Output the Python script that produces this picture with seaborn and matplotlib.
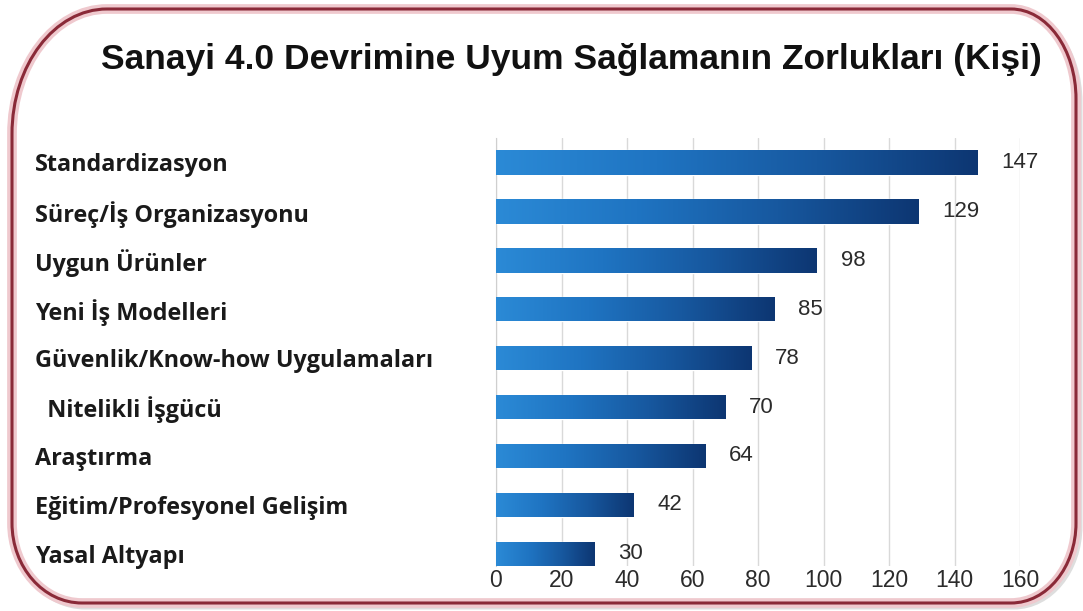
import numpy as np
import pandas as pd
import matplotlib
matplotlib.use("Agg")
import matplotlib.pyplot as plt
import seaborn as sns
from matplotlib.path import Path
from matplotlib.patches import PathPatch
from matplotlib.colors import LinearSegmentedColormap

# data
categories = ["Standardizasyon", "Süreç/İş Organizasyonu", "Uygun Ürünler",
              "Yeni İş Modelleri", "Güvenlik/Know-how Uygulamaları",
              "  Nitelikli İşgücü", "Araştırma", "Eğitim/Profesyonel Gelişim",
              "Yasal Altyapı"]
values = [147, 129, 98, 85, 78, 70, 64, 42, 30]
xticks = [0, 20, 40, 60, 80, 100, 120, 140, 160]
title = "Sanayi 4.0 Devrimine Uyum Sağlamanın Zorlukları (Kişi)"

df = pd.DataFrame({"kategori": categories, "kisi": values})

W, H = 1083, 611
sns.set_style("white")
fig = plt.figure(figsize=(W / 100, H / 100), dpi=100)
fig.patch.set_facecolor("white")

# rounded frame, corners of different size (pixel coords, top-left origin)
L, R, T, B = 12, 1076, 9, 603
tl, tr, br, bl = (95, 125), (65, 90), (65, 80), (70, 80)
k = 0.5523
pts = [
    ((L + tl[0], T), Path.MOVETO),
    ((R - tr[0], T), Path.LINETO),
    ((R - tr[0] + k * tr[0], T), Path.CURVE4),
    ((R, T + tr[1] - k * tr[1]), Path.CURVE4),
    ((R, T + tr[1]), Path.CURVE4),
    ((R, B - br[1]), Path.LINETO),
    ((R, B - br[1] + k * br[1]), Path.CURVE4),
    ((R - br[0] + k * br[0], B), Path.CURVE4),
    ((R - br[0], B), Path.CURVE4),
    ((L + bl[0], B), Path.LINETO),
    ((L + bl[0] - k * bl[0], B), Path.CURVE4),
    ((L, B - bl[1] + k * bl[1]), Path.CURVE4),
    ((L, B - bl[1]), Path.CURVE4),
    ((L, T + tl[1]), Path.LINETO),
    ((L, T + tl[1] - k * tl[1]), Path.CURVE4),
    ((L + tl[0] - k * tl[0], T), Path.CURVE4),
    ((L + tl[0], T), Path.CURVE4),
    ((L + tl[0], T), Path.CLOSEPOLY),
]
verts = [(x / W, (H - y) / H) for (x, y), _ in pts]
codes = [c for _, c in pts]

def frame(offset=(0, 0), **kw):
    v = [(x + offset[0] / W, y - offset[1] / H) for x, y in verts]
    p = PathPatch(Path(v, codes), transform=fig.transFigure, **kw)
    fig.add_artist(p)

frame(offset=(3, 3), facecolor="none", edgecolor="#c8c8c8", lw=5, alpha=0.6, zorder=0)
frame(facecolor="white", edgecolor="#efc9ce", lw=7, zorder=0.5)
frame(facecolor="none", edgecolor="#8a2a38", lw=2.2, zorder=0.6)

fig.text(571 / W, 1 - 60 / H, title, ha="center", va="center",
         fontsize=25.5, fontweight="bold", family="Liberation Sans", color="#111111",
         zorder=2)

ax = fig.add_axes([496 / W, (H - 566) / H, (1020 - 496) / W, (566 - 138) / H])
ax.set_zorder(1)
ax.set_facecolor("none")

sns.barplot(data=df, x="kisi", y="kategori", orient="h", color="#1a6dbb",
            width=0.5, ax=ax)

cmap = LinearSegmentedColormap.from_list("bar", ["#2b8ad6", "#1f74c2", "#17589f", "#0d3672"])
grad = np.linspace(0, 1, 256).reshape(1, -1)
for patch in ax.patches:
    x0, y0 = patch.get_x(), patch.get_y()
    w, h = patch.get_width(), patch.get_height()
    im = ax.imshow(grad, cmap=cmap, aspect="auto", extent=(x0, x0 + w, y0 + h, y0),
                   zorder=3)
    im.set_clip_path(patch)

for cont in ax.containers:
    ax.bar_label(cont, padding=17, fontsize=16, color="#2b2b2b",
                 family="Liberation Sans")

ax.set_xlim(0, 160)
ax.set_ylim(8.25, -0.5)
ax.set_xticks(xticks)
ax.set_xticklabels([str(t) for t in xticks], fontsize=16.5, color="#2b2b2b",
                   family="Liberation Sans")
ax.xaxis.grid(True, color="#d9d9d9", lw=1)
ax.set_axisbelow(True)
ax.tick_params(axis="x", length=0, pad=2)
ax.tick_params(axis="y", length=0, pad=(496 - 35) * 0.72)
ax.set_yticks(range(len(categories)))
ax.set_yticklabels(categories, fontsize=16.8, fontweight="bold", family="Open Sans",
                   color="#1a1a1a", ha="left")
ax.set_xlabel("")
ax.set_ylabel("")
for s in ["top", "right", "bottom"]:
    ax.spines[s].set_visible(False)
ax.spines["left"].set_color("#cfcfcf")

fig.savefig("out.png", dpi=100)
